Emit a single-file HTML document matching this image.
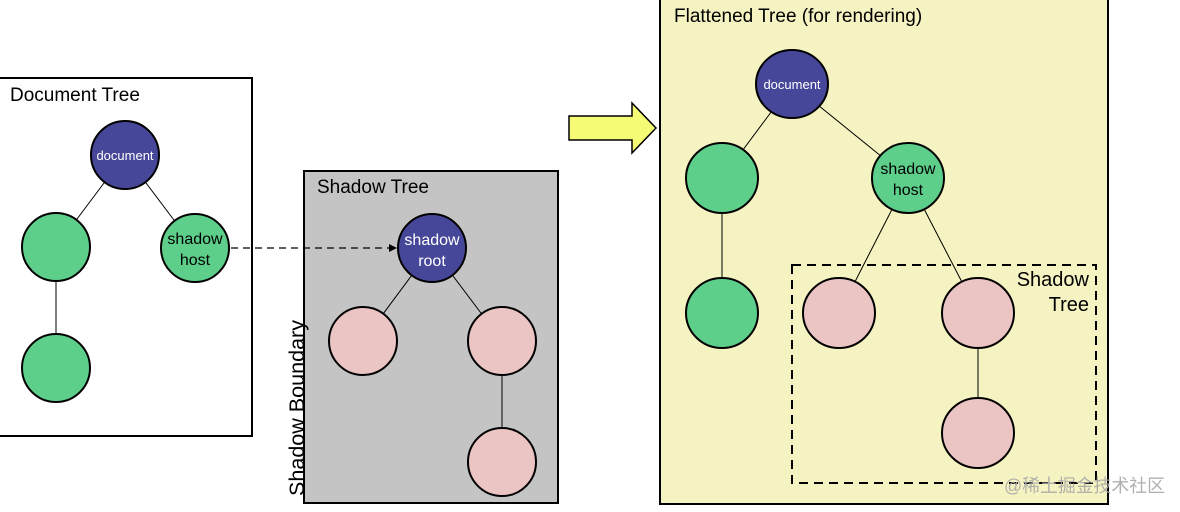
<!DOCTYPE html>
<html><head><meta charset="utf-8"><style>
html,body{margin:0;padding:0;background:#fff;}
svg{display:block;}
text{font-family:"Liberation Sans","Noto Sans CJK SC",sans-serif;}
</style></head><body>
<svg width="1180" height="512" viewBox="0 0 1180 512" xmlns="http://www.w3.org/2000/svg">
<defs><marker id="ah" markerWidth="8" markerHeight="8" refX="7" refY="4" orient="auto" markerUnits="userSpaceOnUse"><path d="M0,0 L8,4 L0,8 z" fill="#000"/></marker></defs>
<!-- Document tree -->
<rect x="-5" y="78" width="257" height="358" fill="#fff" stroke="#000" stroke-width="2"/>
<text x="10" y="101" font-size="19">Document Tree</text>
<g stroke="#000" stroke-width="1">
<line x1="125" y1="155" x2="56" y2="247"/><line x1="125" y1="155" x2="195" y2="248"/><line x1="56" y1="247" x2="56" y2="368"/>
</g>
<g stroke="#000" stroke-width="2">
<circle cx="125" cy="155" r="34" fill="#47479a"/>
<circle cx="56" cy="247" r="34" fill="#5ecf8a"/>
<circle cx="195" cy="248" r="34" fill="#5ecf8a"/>
<circle cx="56" cy="368" r="34" fill="#5ecf8a"/>
</g>
<text x="125" y="160" font-size="13" fill="#fff" text-anchor="middle">document</text>
<text x="195" y="244" font-size="16" text-anchor="middle">shadow</text>
<text x="195" y="265" font-size="16" text-anchor="middle">host</text>
<!-- Shadow tree -->
<rect x="304" y="171" width="254" height="332" fill="#c4c4c4" stroke="#000" stroke-width="2"/>
<text x="317" y="193" font-size="19">Shadow Tree</text>
<text transform="translate(304,496) rotate(-90)" font-size="21" textLength="176" lengthAdjust="spacingAndGlyphs">Shadow Boundary</text>
<line x1="231" y1="248" x2="396" y2="248" stroke="#000" stroke-width="1.3" stroke-dasharray="7,5" marker-end="url(#ah)"/>
<g stroke="#000" stroke-width="1">
<line x1="432" y1="248" x2="363" y2="341"/><line x1="432" y1="248" x2="502" y2="341"/><line x1="502" y1="341" x2="502" y2="462"/>
</g>
<g stroke="#000" stroke-width="2">
<circle cx="432" cy="248" r="34" fill="#47479a"/>
<circle cx="363" cy="341" r="34" fill="#ebc4c4"/>
<circle cx="502" cy="341" r="34" fill="#ebc4c4"/>
<circle cx="502" cy="462" r="34" fill="#ebc4c4"/>
</g>
<text x="432" y="245" font-size="16" fill="#fff" text-anchor="middle">shadow</text>
<text x="432" y="266" font-size="16" fill="#fff" text-anchor="middle">root</text>
<!-- Arrow -->
<path d="M569,116 L632,116 L632,103 L656,128 L632,153 L632,140 L569,140 Z" fill="#f5fb75" stroke="#000" stroke-width="1.5"/>
<!-- Flattened -->
<rect x="660" y="-3" width="448" height="507" fill="#f5f3c1" stroke="#000" stroke-width="2"/>
<text x="674" y="22" font-size="19">Flattened Tree (for rendering)</text>
<g stroke="#000" stroke-width="1">
<line x1="792" y1="84" x2="722" y2="178"/><line x1="792" y1="84" x2="908" y2="178"/><line x1="722" y1="178" x2="722" y2="313"/>
<line x1="908" y1="178" x2="839" y2="313"/><line x1="908" y1="178" x2="978" y2="313"/><line x1="978" y1="313" x2="978" y2="433"/>
</g>
<g stroke="#000" stroke-width="2">
<ellipse cx="792" cy="84" rx="36" ry="34" fill="#47479a"/>
<ellipse cx="722" cy="178" rx="36" ry="35" fill="#5ecf8a"/>
<ellipse cx="908" cy="178" rx="36" ry="35" fill="#5ecf8a"/>
<ellipse cx="722" cy="313" rx="36" ry="35" fill="#5ecf8a"/>
<ellipse cx="839" cy="313" rx="36" ry="35" fill="#ebc4c4"/>
<ellipse cx="978" cy="313" rx="36" ry="35" fill="#ebc4c4"/>
<ellipse cx="978" cy="433" rx="36" ry="35" fill="#ebc4c4"/>
</g>
<text x="792" y="89" font-size="13" fill="#fff" text-anchor="middle">document</text>
<text x="908" y="174" font-size="16" text-anchor="middle">shadow</text>
<text x="908" y="195" font-size="16" text-anchor="middle">host</text>
<rect x="792" y="265" width="304" height="218" fill="none" stroke="#000" stroke-width="2" stroke-dasharray="9,6"/>
<text x="1089" y="286" font-size="20" text-anchor="end">Shadow</text>
<text x="1089" y="311" font-size="20" text-anchor="end">Tree</text>
<text x="1004" y="492" font-size="18" fill="#a8a8a8" opacity="0.9" textLength="161" lengthAdjust="spacingAndGlyphs">@稀土掘金技术社区</text>
</svg>
</body></html>
